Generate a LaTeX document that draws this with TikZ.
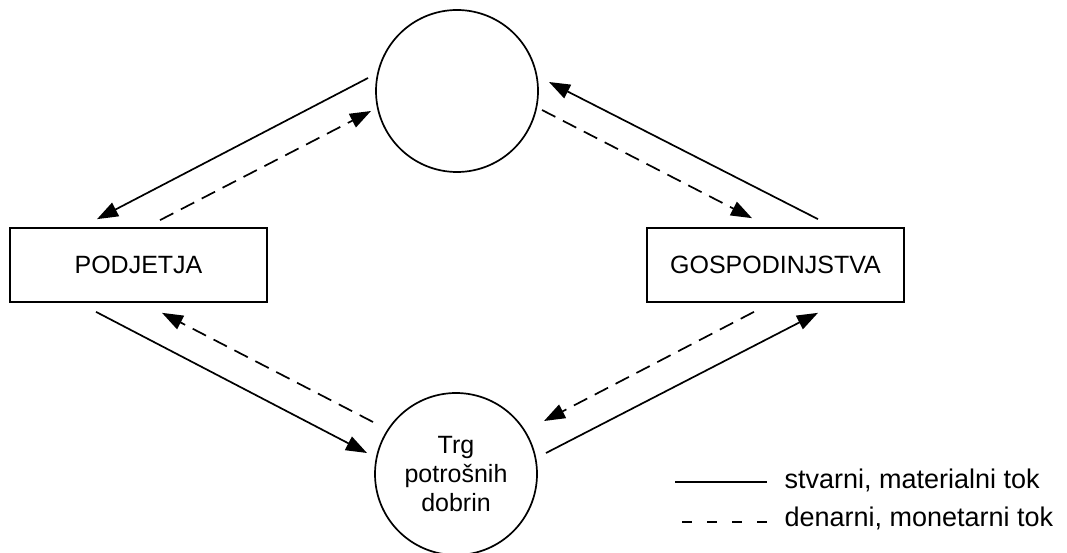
\documentclass[tikz,border=0pt]{standalone}
\usepackage{fontspec}
\setmainfont{Liberation Sans}
\usetikzlibrary{arrows.meta,calc}
\begin{document}
\begin{tikzpicture}[x=1pt,y=-1pt,
  every node/.style={font=\fontsize{25}{29}\selectfont},
  ln/.style={line width=1.7pt},
  flow/.style={ln,-{Triangle[length=21pt,width=15pt]}},
  money/.style={flow,dash pattern=on 15pt off 8.5pt},
  market/.style={ln,draw,circle,minimum size=162pt,inner sep=0pt,align=center},
  sector/.style={ln,draw,rectangle,minimum width=257pt,minimum height=74pt,inner sep=0pt},
  legtext/.style={anchor=base west,font=\fontsize{27}{30}\selectfont}]
\useasboundingbox (0,0) rectangle (1067,553);
\node[market] (T) at (457,91) {};
\node[market] (B) at (456,474) {Trg\\potrošnih\\dobrin};
\node[sector] (P) at (138.5,265) {PODJETJA};
\node[sector] (G) at (775.5,265) {GOSPODINJSTVA};
% top left
\draw[flow]  ($(T.center)+(-89,-13)$) -- ($(P.north)+(-41.5,-8)$);
\draw[money] ($(P.north)+(21.5,-7)$) -- ($(T.center)+(-86,20)$);
% top right
\draw[flow]  ($(G.north)+(42.5,-8)$) -- ($(T.center)+(92,-9)$);
\draw[money] ($(T.center)+(85,19)$) -- ($(G.north)+(-23.5,-9)$);
% bottom left
\draw[flow]  ($(P.south)+(-42.5,9)$) -- ($(B.center)+(-89,-21)$);
\draw[money] ($(B.center)+(-83,-52)$) -- ($(P.south)+(23.5,10)$);
% bottom right
\draw[money] ($(G.south)+(-21.5,9)$) -- ($(B.center)+(88,-53)$);
\draw[flow]  ($(B.center)+(90,-21)$) -- ($(G.south)+(42.5,10)$);
% legend
\coordinate (l1a) at (675,482);
\coordinate (l1b) at (767,482);
\coordinate (l2a) at (682,522);
\coordinate (l2b) at (767,522);
\draw[ln] (l1a) -- (l1b);
\draw[ln,dash pattern=on 10pt off 15pt] (l2a) -- (l2b);
\node[legtext] (t1) at (781,488) {stvarni, materialni tok};
\node[legtext] (t2) at (781,526) {denarni, monetarni tok};
\end{tikzpicture}
\end{document}
